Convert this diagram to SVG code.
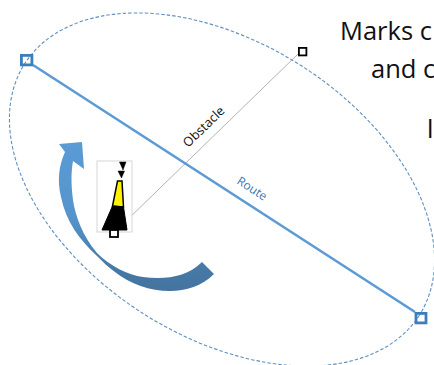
<svg xmlns="http://www.w3.org/2000/svg" width="434" height="365" viewBox="0 0 434 365">
<defs>
<linearGradient id="arrowFill" x1="0" y1="0" x2="0" y2="1"><stop offset="0" stop-color="#5B9BD5"/><stop offset="0.5" stop-color="#5594CC"/><stop offset="0.8" stop-color="#477BAA"/><stop offset="1" stop-color="#44749F"/></linearGradient>
</defs>
<style>
.t{font-family:"Open Sans","Liberation Sans",sans-serif;fill:#111}
.end{fill:none;stroke:#3C7DBB;stroke-width:2.8}
</style>
<rect width="434" height="365" fill="#fff"/>
<g id="connectors" fill="none">
<ellipse id="zone" cx="222" cy="189.500" rx="234" ry="147" transform="rotate(32.500 222 189.500)" stroke="#5F8FC0" stroke-width="1.100" stroke-dasharray="3.500 2"/>
<line id="obstacle-line" x1="124" y1="223" x2="298" y2="54" stroke="#AAAAAA" stroke-width="0.900"/>
<line id="route-line" x1="33" y1="65" x2="415" y2="312" stroke="#5B9BD5" stroke-width="2.600"/>
</g>
<g id="arrow"><path d="M59 144L82 142L84 169L73 161C71 172 71 185 73 200C75 215 83 237 97 253C110 266 128 275 143 277C165 280 187 277 202 262L214 274C202 286 186 291 170 291C150 291 130 284 115 272C108 267 103 262 97 256C80 240 66 222 61 197C57 180 59 165 65 152Z" fill="url(#arrowFill)"/></g>
<g id="beacon">
<rect x="97" y="161" width="35" height="71" fill="#fff" stroke="#CCCCCC" stroke-width="0.800"/>
<path d="M119.500 162L126 162L123 170ZM118 171L124.500 171L121.500 178Z" fill="#000" stroke="#000" stroke-width="0.500"/>
<path d="M117.500 181L122 181L123.500 207L112.500 206Z" fill="#FFF200" stroke="#000" stroke-width="1.500"/>
<path d="M112.500 206L123.500 207L127 230L102 230Z" fill="#000" stroke="#000" stroke-width="1"/>
<rect x="110" y="230" width="8" height="7" fill="#fff" stroke="#000" stroke-width="1.800"/>
</g>
<g id="route-start"><rect class="end" x="21.400" y="55.400" width="10.500" height="9.500"/></g>
<g id="route-end"><rect class="end" x="416" y="313.400" width="10" height="9.500"/></g>
<g id="obstacle-end"><rect x="298.900" y="47.900" width="7.500" height="7.500" fill="#fff" stroke="#000" stroke-width="1.800"/></g>
<g id="labels">
<text class="t" transform="translate(188 148) rotate(-44)" font-size="12.800">Obstacle</text>
<text class="t" transform="translate(236 183) rotate(33)" font-size="12" style="fill:#3C78B4">Route</text>
<text class="t" x="340" y="40" font-size="25.500">Marks c</text>
<text class="t" x="371" y="78" font-size="25.500">and c</text>
<text class="t" x="427" y="138" font-size="25.500">l</text>
</g>
</svg>
